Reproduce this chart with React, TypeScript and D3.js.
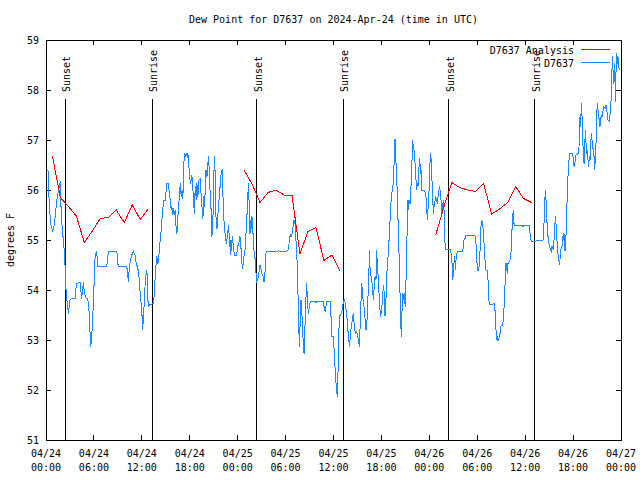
import React from 'react';
import * as d3 from 'd3';

const TITLE = 'Dew Point for D7637 on 2024-Apr-24 (time in UTC)';
const Y_LABEL = 'degrees F';
const yTicks = [51, 52, 53, 54, 55, 56, 57, 58, 59];
const xTickHours = [0, 6, 12, 18, 24, 30, 36, 42, 48, 54, 60, 66, 72];
const xTickDates = ['04/24', '04/24', '04/24', '04/24', '04/25', '04/25', '04/25', '04/25', '04/26', '04/26', '04/26', '04/26', '04/27'];
const xTickTimes = ['00:00', '06:00', '12:00', '18:00', '00:00', '06:00', '12:00', '18:00', '00:00', '06:00', '12:00', '18:00', '00:00'];
const sunEventHours = [2.38, 13.3, 26.42, 37.19, 50.46, 61.23];
const sunEventLabels = ['Sunset', 'Sunrise', 'Sunset', 'Sunrise', 'Sunset', 'Sunrise'];

const seriesNames = ['D7637 Analysis', 'D7637'];
const seriesColors = ['#ff0000', '#1a8cff'];

// Analysis (hourly, three runs)
const analysisHours1 = [0.8, 1.8, 2.8, 3.8, 4.8, 5.8, 6.8, 7.8, 8.8, 9.8, 10.8, 11.8, 12.8];
const analysisValues1 = [56.68, 55.85, 55.67, 55.48, 54.95, 55.18, 55.43, 55.45, 55.6, 55.35, 55.7, 55.41, 55.62];
const analysisHours2 = [24.8, 25.8, 26.8, 27.8, 28.8, 29.8, 30.8, 31.8, 32.8, 33.8, 34.8, 35.8, 36.8];
const analysisValues2 = [56.4, 56.12, 55.75, 55.95, 56.0, 55.9, 55.9, 54.72, 55.17, 55.25, 54.59, 54.7, 54.38];
const analysisHours3 = [48.8, 49.8, 50.8, 51.8, 52.8, 53.8, 54.8, 55.8, 56.8, 57.8, 58.8, 59.8, 60.8];
const analysisValues3 = [55.1, 55.65, 56.15, 56.05, 56.0, 55.97, 56.13, 55.52, 55.62, 55.75, 56.07, 55.83, 55.75];

// Observations
const obsHours = [
  0.25, 0.29, 0.42, 0.58, 0.84, 1.0, 1.17, 1.34, 1.51, 1.67, 1.8, 1.88, 2.0, 2.17, 2.34, 2.42, 2.51, 2.68, 2.8, 3.01,
  3.22, 3.64, 3.72, 3.85, 4.26, 4.35, 4.47, 4.68, 4.81, 5.02, 5.23, 5.39, 5.52, 5.6, 5.73, 5.85, 5.94, 6.02, 6.06, 6.23,
  6.35, 6.48, 7.61, 7.73, 7.86, 8.78, 8.95, 9.03, 10.12, 10.24, 10.33, 10.41, 10.54, 10.74, 10.95, 11.16, 11.29, 11.45, 11.62, 11.79,
  12.0, 12.08, 12.2, 12.33, 12.42, 12.54, 12.63, 12.71, 12.79, 12.96, 13.46, 13.59, 13.71, 13.88, 14.01, 14.13, 14.26, 14.43, 14.55, 14.63,
  14.71, 14.93, 15.05, 15.14, 15.35, 15.43, 15.55, 15.68, 15.76, 15.89, 15.97, 16.1, 16.18, 16.27, 16.39, 16.47, 16.6, 16.72, 16.81, 16.93,
  17.06, 17.14, 17.23, 17.35, 17.44, 17.56, 17.69, 17.77, 17.85, 17.98, 18.06, 18.19, 18.27, 18.4, 18.48, 18.56, 18.69, 18.82, 18.9, 19.02,
  19.15, 19.32, 19.4, 19.53, 19.65, 19.73, 19.86, 20.03, 20.16, 20.24, 20.36, 20.49, 20.57, 20.7, 20.78, 20.91, 20.99, 21.11, 21.2, 21.28,
  21.41, 21.53, 21.7, 21.83, 21.95, 22.08, 22.16, 22.24, 22.45, 22.58, 22.67, 22.79, 22.87, 22.99,
  23.04, 23.12, 23.25, 23.33, 23.46, 23.58, 23.88, 24.0, 24.13, 24.21, 24.29, 24.38, 24.5, 24.58, 24.71, 24.79, 24.92, 25.04, 25.13, 25.25,
  25.33, 25.46, 25.54, 25.63, 25.71, 25.79, 25.88, 25.96, 26.08, 26.21, 26.3, 26.38, 26.51, 26.63, 26.71, 26.8, 26.92, 27.01, 27.21, 27.3,
  27.42, 27.51, 27.63, 28.89, 29.09, 30.14, 30.34, 30.43, 30.55, 30.64, 30.76, 30.89, 30.97, 31.05, 31.18, 31.3, 31.39, 31.51, 31.6, 31.68,
  31.76, 31.85, 31.93, 32.01, 32.1, 32.22, 32.31, 32.39, 32.47, 32.56, 32.64, 32.73, 32.85, 32.97, 33.1, 33.68, 33.81, 33.98, 34.73, 34.81,
  34.94, 35.06, 35.15, 35.56, 35.69, 35.81, 35.98, 36.1, 36.23, 36.36, 36.48, 36.56, 36.65, 36.73, 37.02, 37.15, 37.23, 37.36, 37.48, 37.65,
  37.77, 37.9, 38.03, 38.11, 38.23, 38.36, 38.48, 38.61, 38.74, 38.86, 38.99, 39.11, 39.24, 39.36, 39.45, 39.53, 39.66, 39.78, 39.91, 39.99,
  40.07, 40.2, 40.32, 40.41, 40.49, 40.57, 40.66, 40.78, 40.91, 40.99, 41.07, 41.2, 41.32, 41.41, 41.49, 41.57, 41.7, 41.82, 41.91, 42.03,
  42.16, 42.24, 42.36, 42.45, 42.57, 42.66, 42.78, 42.86, 42.99, 43.08, 43.16, 43.29, 43.41, 43.54, 43.62, 43.7, 43.79, 43.91, 43.99, 44.08,
  44.16, 44.24, 44.33, 44.41, 44.49, 44.58, 44.66, 44.74, 44.83, 44.91, 44.99, 45.08, 45.16, 45.24, 45.33, 45.41, 45.49, 45.58, 45.66, 45.74,
  45.83, 45.91, 45.99, 46.08, 46.16, 46.25, 46.33, 46.41, 46.5, 46.58, 46.66, 46.75, 46.83, 46.91, 47.0, 47.08, 47.25, 47.41, 47.5, 47.58,
  47.66, 47.75, 47.83, 47.91, 48.0,
  48.08, 48.17, 48.25, 48.33, 48.42, 48.5, 48.59, 48.67, 48.75, 48.92, 49.0, 49.09, 49.17, 49.25, 49.34, 49.42, 49.5, 49.59, 49.67, 49.75,
  49.84, 49.92, 50.0, 50.67, 50.76, 50.84, 50.92, 51.01, 51.09, 51.17, 51.26, 51.34, 51.42, 51.55, 52.17, 52.26, 52.34, 52.47, 52.55, 53.59,
  53.76, 53.84, 53.93, 54.01, 54.18, 54.26, 54.35, 54.43, 54.51, 54.6, 54.68, 54.76, 54.85, 54.93, 55.01, 55.1, 55.26, 55.35, 55.43, 55.51,
  56.18, 56.26, 56.35, 56.43, 56.51, 56.6, 56.72, 56.85, 56.93, 57.18, 57.26, 57.35, 57.43, 57.51, 57.6, 57.68, 57.76, 57.85, 58.1, 58.18,
  58.26, 58.35, 58.43, 58.51, 58.6, 58.68, 59.35, 59.6, 59.77, 59.89, 60.52, 60.61, 60.73, 60.86, 62.27, 62.36, 62.45, 62.53, 62.61, 62.7,
  62.78, 62.86, 63.03, 63.2, 63.28, 63.36, 63.53, 63.61, 63.7, 63.78, 63.86, 63.95, 64.03, 64.11, 64.2, 64.28, 64.36, 64.45, 64.61, 64.7,
  64.78, 64.86, 64.95, 65.03, 65.11, 65.2, 65.28, 65.36, 65.45, 65.53, 65.95, 66.03, 66.12, 66.2, 66.28, 66.37, 66.62, 66.7, 66.78, 66.87,
  66.95, 67.03, 67.12, 67.2, 67.28, 67.37, 67.45, 67.53, 67.62, 67.7, 67.78, 67.87, 67.95, 68.03, 68.12, 68.2, 68.28, 68.37, 68.45, 68.53,
  68.62, 68.7, 68.78, 68.87, 68.95, 69.03, 69.12, 69.2, 69.28, 69.37, 69.45, 69.62, 69.7, 69.79, 70.04, 70.12, 70.2, 70.29, 70.37, 70.54,
  70.62, 70.7, 70.79, 70.87, 70.96, 71.04, 71.12, 71.21, 71.29, 71.37, 71.46, 71.54, 71.62, 71.71, 71.79,
];
const obsValues = [
  56.4, 56.17, 55.67, 55.33, 55.17, 55.27, 55.5, 55.77, 55.95, 56.07, 56.17, 55.67, 55.3, 55.0, 54.67, 54.33, 54.0, 53.7, 53.53, 53.8,
  53.83, 53.83, 54.0, 54.13, 54.15, 54.0, 53.83, 54.15, 53.95, 53.83, 53.83, 53.57, 53.13, 52.87, 53.07, 53.47, 53.73, 54.13, 54.53, 54.73,
  54.77, 54.47, 54.47, 54.67, 54.77, 54.77, 54.73, 54.47, 54.47, 54.27, 54.17, 54.4, 54.57, 54.7, 54.77, 54.7, 54.53, 54.47, 54.33, 53.93,
  53.6, 53.2, 53.4, 53.87, 54.13, 54.33, 54.4, 54.13, 53.67, 53.7, 53.73, 54.0, 54.4, 54.67, 54.53, 54.67, 54.93, 55.2, 55.47, 55.6,
  55.8, 55.8, 56.0, 56.13, 56.13, 55.93, 55.83, 55.6, 55.67, 55.5, 55.63, 55.5, 55.6, 55.3, 55.13, 55.33, 55.7, 55.87, 56.13, 55.87,
  56.0, 55.83, 56.47, 56.73, 56.67, 56.73, 56.67, 56.73, 56.53, 56.33, 56.13, 56.2, 56.3, 56.0, 55.87, 55.53, 56.07, 55.8, 56.13, 55.87,
  56.2, 56.23, 55.97, 55.67, 55.43, 55.87, 55.67, 56.4, 56.27, 56.47, 56.67, 56.2, 55.87, 55.53, 55.07, 55.47, 56.2, 56.67, 56.2, 55.47,
  55.23, 55.53, 55.87, 56.13, 56.37, 56.4, 55.87, 55.47, 55.07, 54.93, 55.03, 55.2, 55.3, 54.87,
  55.0, 54.7, 54.93, 55.07, 54.87, 54.7, 54.7, 54.87, 54.93, 55.0, 55.07, 54.93, 54.63, 54.43, 54.53, 54.67, 54.8, 55.13, 55.4, 55.73,
  56.13, 55.67, 55.13, 55.4, 55.23, 55.47, 55.27, 55.0, 54.7, 54.6, 54.33, 54.17, 54.2, 54.33, 54.4, 54.5, 54.43, 54.33, 54.27, 54.17,
  54.33, 54.73, 54.77, 54.77, 54.78, 54.77, 54.8, 54.93, 55.07, 55.1, 55.07, 55.2, 55.3, 55.4, 55.33, 55.0, 54.73, 54.33, 53.47, 53.13,
  52.87, 53.6, 53.8, 53.73, 53.27, 52.93, 52.73, 53.0, 53.53, 53.87, 54.13, 53.8, 53.53, 53.67, 53.78, 53.78, 53.75, 53.78, 53.78, 53.67,
  53.57, 53.67, 53.78, 53.78, 53.47, 53.07, 53.07, 52.73, 52.33, 52.03, 51.87, 52.33, 53.0, 53.47, 53.53, 53.67, 53.77, 53.8, 53.73, 53.53,
  53.27, 53.0, 52.87, 53.13, 53.27, 53.4, 53.53, 53.27, 53.13, 53.17, 53.13, 53.0, 52.87, 53.4, 53.8, 54.13, 53.87, 53.73, 53.53, 53.33,
  53.2, 53.4, 53.87, 54.13, 54.8, 54.47, 54.33, 54.2, 54.0, 53.8, 54.0, 54.27, 54.2, 54.8, 54.47, 54.33, 53.93, 53.6, 53.47, 53.6,
  53.87, 54.1, 53.93, 53.47, 53.8, 54.33, 54.47, 54.8, 55.07, 55.4, 55.67, 55.93, 56.0, 56.33, 56.67, 57.02, 56.67, 56.27, 55.93, 55.4,
  55.0, 54.53, 53.93, 53.4, 53.07, 53.6, 53.93, 53.8, 53.93, 53.8, 53.67, 54.2, 54.73, 55.33, 55.8, 55.6, 55.8, 55.73, 55.93, 56.2,
  56.6, 57.0, 56.87, 56.8, 56.6, 56.47, 56.2, 56.0, 56.13, 56.07, 56.27, 56.63, 56.53, 56.33, 56.4, 56.0, 56.0, 56.0, 55.93, 55.87,
  55.67, 55.4, 55.6, 55.87, 56.07,
  56.53, 56.73, 56.53, 56.2, 55.87, 55.53, 55.73, 55.67, 55.87, 55.8, 55.73, 55.87, 55.93, 56.07, 56.0, 55.87, 55.73, 55.53, 55.67, 55.8,
  55.6, 55.07, 54.81, 54.81, 54.67, 54.53, 54.2, 54.33, 54.53, 54.67, 54.4, 54.6, 54.73, 54.77, 54.77, 54.87, 55.0, 55.03, 55.1, 55.1,
  55.07, 54.93, 54.67, 54.4, 54.4, 54.53, 54.8, 55.13, 55.4, 55.33, 55.37, 55.13, 54.93, 54.73, 54.47, 54.4, 54.4, 54.2, 53.87, 53.7,
  53.73, 53.47, 53.2, 53.0, 53.07, 52.99, 53.03, 53.13, 53.27, 53.3, 53.4, 53.63, 53.87, 54.27, 54.53, 54.47, 54.33, 54.53, 54.6, 54.67,
  54.83, 55.2, 55.47, 55.6, 55.33, 55.3, 55.3, 55.29, 55.27, 55.3, 55.3, 55.13, 55.0, 54.97, 55.0, 55.33, 55.73, 56.0, 55.8, 55.47,
  55.2, 55.07, 54.87, 54.8, 54.77, 54.87, 54.8, 55.0, 55.2, 55.47, 55.33, 55.07, 54.87, 54.73, 54.67, 54.5, 54.6, 54.8, 54.87, 55.07,
  55.0, 55.13, 54.8, 54.8, 55.07, 55.47, 56.0, 56.27, 56.47, 56.73, 56.73, 56.6, 56.47, 56.53, 56.6, 56.7, 56.73, 56.8, 56.93, 57.47,
  57.27, 57.73, 57.47, 57.07, 56.73, 56.53, 56.8, 57.2, 56.93, 56.73, 56.8, 56.6, 56.47, 56.67, 56.6, 56.87, 57.13, 57.0, 56.87, 56.8,
  56.67, 56.4, 56.6, 56.93, 57.47, 57.73, 57.6, 57.47, 57.4, 57.27, 57.43, 57.5, 57.47, 57.67, 57.63, 57.7, 57.67, 57.47, 57.4, 57.37,
  57.5, 57.6, 57.93, 58.4, 58.67, 58.13, 58.4, 58.53, 57.77, 58.33, 58.73, 58.53, 58.67, 58.47, 58.4,
];

const W = 640;
const H = 480;
const PL = 46;
const PR = 621;
const PT = 40;
const PB = 440;
const FONT = "'DejaVu Sans Mono', monospace";

export default function App() {
  const x = d3.scaleLinear().domain([0, 72]).range([PL, PR]);
  const y = d3.scaleLinear().domain([51, 59]).range([PB, PT]);
  const line = d3
    .line<[number, number]>()
    .x((d) => x(d[0]))
    .y((d) => y(d[1]));

  const zip = (hs: number[], vs: number[]) => hs.map((h, i) => [h, vs[i]] as [number, number]);
  const analysisRuns = [
    zip(analysisHours1, analysisValues1),
    zip(analysisHours2, analysisValues2),
    zip(analysisHours3, analysisValues3),
  ];
  const obs = zip(obsHours, obsValues);

  return (
    <svg
      width={W}
      height={H}
      viewBox={`0 0 ${W} ${H}`}
      style={{ position: 'absolute', left: 0, top: 0, background: '#fff' }}
      fontFamily={FONT}
      fontSize={10}
    >
      <rect x={0} y={0} width={W} height={H} fill="#fff" />
      {/* title */}
      <text x={(PL + PR) / 2} y={23} textAnchor="middle" fill="#000">
        {TITLE}
      </text>
      {/* y label */}
      <text transform={`translate(14, ${(PT + PB) / 2}) rotate(-90)`} textAnchor="middle" fill="#000">
        {Y_LABEL}
      </text>

      {/* y ticks */}
      {yTicks.map((t) => (
        <g key={`y${t}`}>
          <line x1={PL} x2={PL + 5} y1={y(t)} y2={y(t)} stroke="#000" shapeRendering="crispEdges" />
          <line x1={PR} x2={PR - 5} y1={y(t)} y2={y(t)} stroke="#000" shapeRendering="crispEdges" />
          <text x={39} y={y(t) + 3.5} textAnchor="end" fill="#000">
            {t}
          </text>
        </g>
      ))}

      {/* x ticks */}
      {xTickHours.map((h, i) => (
        <g key={`x${h}`}>
          <line x1={x(h)} x2={x(h)} y1={PB} y2={PB - 5} stroke="#000" shapeRendering="crispEdges" />
          <line x1={x(h)} x2={x(h)} y1={PT} y2={PT + 5} stroke="#000" shapeRendering="crispEdges" />
          <text x={x(h)} y={457} textAnchor="middle" fill="#000">
            {xTickDates[i]}
          </text>
          <text x={x(h)} y={471} textAnchor="middle" fill="#000">
            {xTickTimes[i]}
          </text>
        </g>
      ))}

      {/* sunrise / sunset */}
      {sunEventHours.map((h, i) => (
        <g key={`s${i}`}>
          <line x1={x(h)} x2={x(h)} y1={99} y2={PB} stroke="#000" shapeRendering="crispEdges" />
          <text transform={`translate(${x(h) + 5}, 92) rotate(-90)`} textAnchor="start" fill="#000">
            {sunEventLabels[i]}
          </text>
        </g>
      ))}

      {/* data */}
      <path d={line(obs) || ''} fill="none" stroke={seriesColors[1]} strokeWidth={1} shapeRendering="crispEdges" />
      {analysisRuns.map((run, i) => (
        <path
          key={`a${i}`}
          d={line(run) || ''}
          fill="none"
          stroke={seriesColors[0]}
          strokeWidth={1}
          shapeRendering="crispEdges"
        />
      ))}

      {/* legend */}
      {seriesNames.map((name, i) => (
        <g key={name}>
          <text x={574} y={54 + i * 13} textAnchor="end" fill="#000">
            {name}
          </text>
          <line x1={581} x2={610} y1={49.5 + i * 13} y2={49.5 + i * 13} stroke={seriesColors[i]} shapeRendering="crispEdges" />
        </g>
      ))}

      {/* frame */}
      <rect x={PL} y={PT} width={PR - PL} height={PB - PT} fill="none" stroke="#000" shapeRendering="crispEdges" />
    </svg>
  );
}
